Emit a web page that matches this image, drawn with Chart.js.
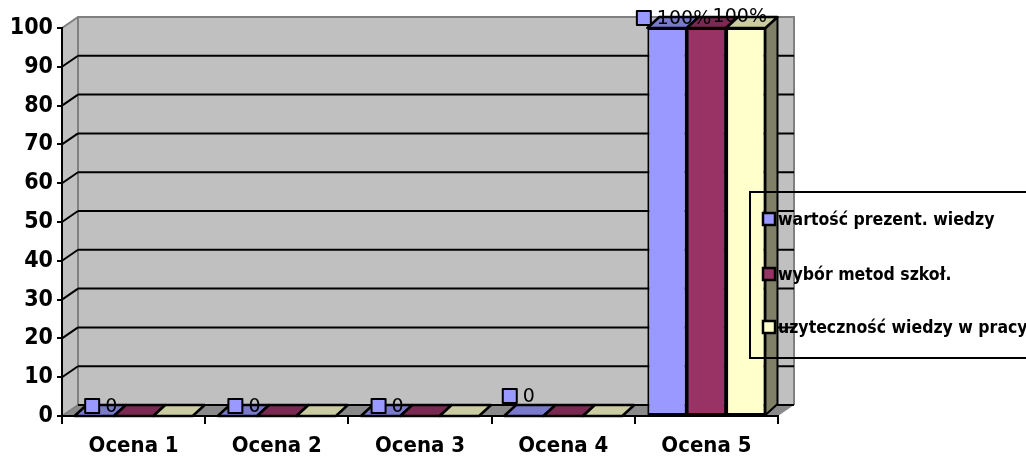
<!DOCTYPE html>
<html>
<head>
<meta charset="utf-8">
<style>
  html, body { margin: 0; padding: 0; background: #ffffff; }
  canvas { display: block; }
</style>
<script src="https://cdn.jsdelivr.net/npm/chart.js@4.4.0/dist/chart.umd.min.js"></script>
</head>
<body>
<canvas id="c" width="1026" height="457"></canvas>
<script>
// ---- data ----
const categories = ['Ocena 1', 'Ocena 2', 'Ocena 3', 'Ocena 4', 'Ocena 5'];
const seriesNames = ['wartość prezent. wiedzy', 'wybór metod szkoł.', 'uzyteczność wiedzy w pracy'];
const wartoscValues = [0, 0, 0, 0, 100];
const wyborValues = [0, 0, 0, 0, 100];
const uzytecznoscValues = [0, 0, 0, 0, 100];
const wartoscLabels = ['0', '0', '0', '0', '100%'];
const uzytecznoscLabels = ['', '', '', '', '100%'];
const yMin = 0;
const yMax = 100;
const yStep = 10;

// ---- style ----
const BOLD_FONT = "'DejaVu Sans Condensed', 'DejaVu Sans', Verdana, sans-serif";
const FONT = "'DejaVu Sans', Verdana, sans-serif";
const FRONT = ['#9999FF', '#993366', '#FFFFCC'];
const WALL = { dx: 16, dy: -11 };   // depth of the walls
const BAR = { dx: 12, dy: -11 };    // depth of the bars

function shade(hex, f) {
  const n = parseInt(hex.slice(1), 16);
  const r = Math.round(((n >> 16) & 255) * f);
  const g = Math.round(((n >> 8) & 255) * f);
  const b = Math.round((n & 255) * f);
  return `rgb(${r},${g},${b})`;
}

function poly(ctx, pts) {
  ctx.beginPath();
  ctx.moveTo(pts[0][0], pts[0][1]);
  for (let i = 1; i < pts.length; i++) ctx.lineTo(pts[i][0], pts[i][1]);
  ctx.closePath();
}

function barBox(el) {
  const p = el.getProps(['x', 'y', 'base', 'width'], true);
  return { x0: p.x - p.width / 2, x1: p.x + p.width / 2, top: Math.min(p.y, p.base), base: Math.max(p.y, p.base), cx: p.x };
}

// walls, floor and the gridlines on the back wall
const walls = {
  id: 'walls',
  beforeDraw(chart) {
    const { ctx, chartArea: a, scales: { y } } = chart;
    const { dx, dy } = WALL;
    ctx.save();
    ctx.fillStyle = '#C0C0C0';
    poly(ctx, [[a.left, a.top], [a.left + dx, a.top + dy], [a.left + dx, a.bottom + dy], [a.left, a.bottom]]);
    ctx.fill();
    ctx.fillRect(a.left + dx, a.top + dy, a.right - a.left, a.bottom - a.top);
    ctx.fillStyle = '#8A8A8A';
    poly(ctx, [[a.left, a.bottom], [a.right, a.bottom], [a.right + dx, a.bottom + dy], [a.left + dx, a.bottom + dy]]);
    ctx.fill();

    ctx.lineWidth = 2;
    ctx.strokeStyle = '#808080';
    ctx.beginPath();
    ctx.moveTo(a.left, a.top);
    ctx.lineTo(a.left + dx, a.top + dy);
    ctx.lineTo(a.right + dx, a.top + dy);
    ctx.lineTo(a.right + dx, a.bottom + dy);
    ctx.moveTo(a.left + dx, a.top + dy);
    ctx.lineTo(a.left + dx, a.bottom + dy);
    ctx.moveTo(a.left, a.bottom);
    ctx.lineTo(a.left + dx, a.bottom + dy);
    ctx.stroke();

    ctx.strokeStyle = '#000';
    ctx.beginPath();
    y.ticks.forEach(t => {
      if (t.value >= yMax) return;
      const py = y.getPixelForValue(t.value);
      if (t.value > yMin) {
        ctx.moveTo(a.left, py);
        ctx.lineTo(a.left + dx, py + dy);
      }
      ctx.moveTo(a.left + dx, py + dy);
      ctx.lineTo(a.right + dx, py + dy);
    });
    ctx.stroke();
    ctx.restore();
  },
  beforeDatasetsDraw(chart) {
    // right-hand faces go underneath, the next bar's front hides them
    const { ctx } = chart;
    const { dx, dy } = BAR;
    ctx.save();
    ctx.lineWidth = 2;
    ctx.lineJoin = 'round';
    ctx.strokeStyle = '#000';
    chart.data.datasets.forEach((ds, i) => {
      chart.getDatasetMeta(i).data.forEach(el => {
        const b = barBox(el);
        if (b.base - b.top < 0.5) return;
        poly(ctx, [[b.x1, b.top], [b.x1 + dx, b.top + dy], [b.x1 + dx, b.base + dy], [b.x1, b.base]]);
        ctx.fillStyle = shade(FRONT[i], 0.5);
        ctx.fill();
        ctx.stroke();
      });
    });
    ctx.restore();
  },
  afterDatasetsDraw(chart, args, opts) {
    const { ctx } = chart;
    const { dx, dy } = BAR;
    const n = chart.data.labels.length;
    ctx.save();
    ctx.lineWidth = 2.5;
    ctx.lineJoin = 'round';
    ctx.strokeStyle = '#000';
    for (let k = 0; k < n; k++) {
      chart.data.datasets.forEach((ds, i) => {
        const b = barBox(chart.getDatasetMeta(i).data[k]);
        poly(ctx, [[b.x0, b.top], [b.x1, b.top], [b.x1 + dx, b.top + dy], [b.x0 + dx, b.top + dy]]);
        ctx.fillStyle = shade(FRONT[i], 0.8);
        ctx.fill();
        ctx.stroke();
      });
    }

    // value labels
    ctx.font = `19px ${FONT}`;
    ctx.textBaseline = 'middle';
    ctx.textAlign = 'left';
    (opts.labels || []).forEach(spec => {
      const meta = chart.getDatasetMeta(spec.dataset);
      spec.texts.forEach((txt, k) => {
        if (!txt) return;
        const b = barBox(meta.data[k]);
        const nudge = (spec.nudge && spec.nudge[k]) || [0, 0];
        const tw = ctx.measureText(txt).width;
        const key = spec.key ? 14 + 6 : 0;
        const w = key + tw;
        const left = b.cx + spec.dx + nudge[0] - w / 2;
        const cy = b.top + spec.dy + nudge[1];
        if (spec.key) {
          ctx.fillStyle = FRONT[spec.dataset];
          ctx.fillRect(left, cy - 7, 14, 14);
          ctx.lineWidth = 2;
          ctx.strokeRect(left, cy - 7, 14, 14);
        }
        ctx.fillStyle = '#000';
        ctx.fillText(txt, left + key, cy + 1);
      });
    });
    ctx.restore();
  },
  afterDraw(chart, args, opts) {
    // legend box with keys
    const { ctx } = chart;
    const L = opts.legend;
    ctx.save();
    ctx.lineWidth = 2;
    ctx.strokeStyle = '#000';
    ctx.strokeRect(L.x, L.y, L.w, L.h);
    ctx.font = `bold 17.5px ${BOLD_FONT}`;
    ctx.textBaseline = 'middle';
    ctx.textAlign = 'left';
    chart.data.datasets.forEach((ds, i) => {
      const cy = L.rows[i];
      ctx.fillStyle = FRONT[i];
      ctx.fillRect(L.keyX, cy - 6, 12, 12);
      ctx.lineWidth = 2.5;
      ctx.strokeRect(L.keyX, cy - 6, 12, 12);
      ctx.fillStyle = '#000';
      ctx.fillText(ds.label, L.keyX + 15, cy + 1);
    });
    ctx.restore();
  }
};

const seriesValues = [wartoscValues, wyborValues, uzytecznoscValues];

new Chart(document.getElementById('c'), {
  type: 'bar',
  data: {
    labels: categories,
    datasets: seriesValues.map((vals, i) => ({
      label: seriesNames[i],
      data: vals,
      backgroundColor: FRONT[i],
      borderColor: '#000',
      borderWidth: 2,
      borderSkipped: false,
      categoryPercentage: 0.825,
      barPercentage: 1
    }))
  },
  options: {
    responsive: false,
    animation: false,
    layout: { padding: { top: 28, right: 248, left: 0, bottom: 0 } },
    plugins: {
      legend: { display: false },
      tooltip: { enabled: false },
      walls: {
        labels: [
          { dataset: 0, texts: wartoscLabels, key: true, dx: 7, dy: -10, nudge: [null, null, null, [-12, -10], null] },
          { dataset: 2, texts: uzytecznoscLabels, key: false, dx: -6, dy: -12 }
        ],
        legend: { x: 750, y: 192, w: 300, h: 166, keyX: 763, rows: [219, 274, 327] }
      }
    },
    scales: {
      x: {
        grid: { display: true, offset: true, drawOnChartArea: false, drawTicks: true, tickLength: 8, color: '#000', lineWidth: 2 },
        border: { display: true, color: '#000', width: 2 },
        ticks: { color: '#000', font: { family: BOLD_FONT, weight: 'bold', size: 22 }, padding: 9, maxRotation: 0, autoSkip: false },
        afterFit(s) { s.height = 41; }
      },
      y: {
        min: yMin,
        max: yMax,
        grid: { drawOnChartArea: false, drawTicks: true, tickLength: 5, color: '#000', lineWidth: 2 },
        border: { display: true, color: '#000', width: 2 },
        ticks: { stepSize: yStep, color: '#000', font: { family: BOLD_FONT, weight: 'bold', size: 23 }, padding: 4 },
        afterFit(s) { s.width = 62; }
      }
    }
  },
  plugins: [walls]
});
</script>
</body>
</html>
